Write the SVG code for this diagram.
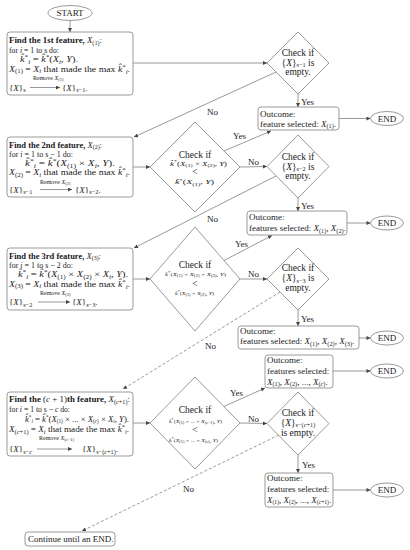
<svg xmlns="http://www.w3.org/2000/svg" width="410" height="550" viewBox="0 0 410 550">
<style>
text{font-family:"Liberation Serif","Times New Roman",serif;font-size:9px;fill:#1a1a1a}
.bd{font-weight:bold}
.it{font-style:italic}
.sb{font-size:6.3px}
.sm{font-size:6px}
.f7{font-size:7px}
.f5{font-size:5px}
.dt{font-size:9.5px}
.nd{fill:#fff;stroke:#808080;stroke-width:0.8}
.cn line{stroke:#808080;stroke-width:0.8;fill:none}
.cn .dash{stroke-dasharray:3 2}
.ra{stroke:#555;stroke-width:0.6}
</style>
<defs>
<marker id="ah" viewBox="0 0 6 6" refX="6" refY="3" markerUnits="userSpaceOnUse" markerWidth="4.5" markerHeight="4" orient="auto"><path d="M0,0 L6,3 L0,6 z" fill="#444"/></marker>
</defs>
<rect width="410" height="550" fill="#fff"/>

<g class="cn" id="connectors">
<line x1="70" y1="20.5" x2="70" y2="32" marker-end="url(#ah)"/>
<line x1="133" y1="63" x2="267" y2="63" marker-end="url(#ah)"/>
<line x1="298" y1="94" x2="298" y2="107" marker-end="url(#ah)"/>
<line x1="276" y1="72" x2="134" y2="137" marker-end="url(#ah)"/>
<line x1="339" y1="118.5" x2="370.5" y2="118.5" marker-end="url(#ah)"/>
<line x1="133" y1="167" x2="150" y2="167" marker-end="url(#ah)"/>
<line x1="224" y1="151" x2="271" y2="131" marker-end="url(#ah)"/>
<line x1="240" y1="167" x2="267" y2="166.5" marker-end="url(#ah)"/>
<line x1="298" y1="198" x2="298" y2="211" marker-end="url(#ah)"/>
<line x1="276" y1="176" x2="134" y2="248" marker-end="url(#ah)"/>
<line x1="347" y1="223" x2="370.5" y2="223" marker-end="url(#ah)"/>
<line x1="133" y1="279" x2="150" y2="279" marker-end="url(#ah)"/>
<line x1="224" y1="260.5" x2="272" y2="235.5" marker-end="url(#ah)"/>
<line x1="240" y1="279" x2="267" y2="279" marker-end="url(#ah)"/>
<line x1="298" y1="310" x2="298" y2="326" marker-end="url(#ah)"/>
<line class="dash" x1="280" y1="292" x2="123" y2="389" marker-end="url(#ah)"/>
<line x1="359" y1="338" x2="370.5" y2="338" marker-end="url(#ah)"/>
<line x1="133" y1="423" x2="150" y2="423" marker-end="url(#ah)"/>
<line x1="224" y1="406.5" x2="265" y2="388" marker-end="url(#ah)"/>
<line x1="240" y1="423" x2="267" y2="423.5" marker-end="url(#ah)"/>
<line x1="298" y1="455" x2="298" y2="473" marker-end="url(#ah)"/>
<line class="dash" x1="279" y1="435" x2="82" y2="531" marker-end="url(#ah)"/>
<line x1="333" y1="371" x2="370.5" y2="371" marker-end="url(#ah)"/>
<line x1="333" y1="490" x2="370.5" y2="490" marker-end="url(#ah)"/>
<text x="301" y="104.5">Yes</text>
<text x="207" y="115">No</text>
<text x="233" y="139">Yes</text>
<text x="248" y="164.5">No</text>
<text x="301" y="209">Yes</text>
<text x="207" y="222">No</text>
<text x="235" y="247">Yes</text>
<text x="248" y="277">No</text>
<text x="301" y="322">Yes</text>
<text x="205" y="349">No</text>
<text x="230" y="396">Yes</text>
<text x="248" y="421.5">No</text>
<text x="302" y="468">Yes</text>
<text x="183" y="492">No</text>
</g>

<g id="start">
<ellipse class="nd" cx="70" cy="13" rx="22" ry="7.5"/>
<text x="70" y="16" text-anchor="middle">START</text>
</g>

<g id="box1">
<rect class="nd" x="7" y="32" width="126" height="63" rx="3"/>
<text x="9" y="43" textLength="93" lengthAdjust="spacingAndGlyphs"><tspan class="bd">Find the 1st feature, </tspan><tspan class="it">X</tspan><tspan class="sb" dy="1.8">(1)</tspan><tspan dy="-1.8">:</tspan></text>
<text x="9" y="53" textLength="50" lengthAdjust="spacingAndGlyphs">for <tspan class="it">i</tspan> = 1 to s do:</text>
<text x="20" y="62" textLength="58" lengthAdjust="spacingAndGlyphs"><tspan class="it">k̂</tspan><tspan class="sb" dy="-3">*</tspan><tspan class="sb it" dy="5">i</tspan><tspan dy="-2"> = </tspan><tspan class="it">k̂</tspan><tspan class="sb" dy="-3">*</tspan><tspan dy="3">(</tspan><tspan class="it">X</tspan><tspan class="sb it" dy="1.8">i</tspan><tspan dy="-1.8">, </tspan><tspan class="it">Y</tspan>).</text>
<text x="9" y="71.5" textLength="121" lengthAdjust="spacingAndGlyphs"><tspan class="it">X</tspan><tspan class="sb" dy="1.8">(1)</tspan><tspan dy="-1.8"> = </tspan><tspan class="it">X</tspan><tspan class="sb it" dy="1.8">i</tspan><tspan dy="-1.8"> that made the max </tspan><tspan class="it">k̂</tspan><tspan class="sb" dy="-3">*</tspan><tspan class="sb it" dy="5">i</tspan><tspan dy="-2">.</tspan></text>
<text class="sm" x="33" y="80">Remove <tspan class="it">X</tspan><tspan font-size="4.5" dy="1.2">(1)</tspan></text>
<text x="9" y="90.5">{<tspan class="it">X</tspan>}<tspan class="sb" dy="1.8">s</tspan></text>
<line class="ra" x1="30" y1="87.5" x2="60" y2="87.5" marker-end="url(#ah)"/>
<text x="62" y="90.5">{<tspan class="it">X</tspan>}<tspan class="sb" dy="1.8">s−1</tspan><tspan dy="-1.8">.</tspan></text>
</g>

<g id="check1">
<polygon class="nd" points="298,32 329,63 298,94 267,63"/>
<text class="dt" x="298" y="55.5" text-anchor="middle">Check if</text>
<text class="dt" x="298" y="65.5" text-anchor="middle">{<tspan class="it">X</tspan>}<tspan class="sb" dy="1.8">s−1</tspan><tspan dy="-1.8"> is</tspan></text>
<text class="dt" x="298" y="75" text-anchor="middle">empty.</text>
</g>

<g id="outcome1">
<rect class="nd" x="258" y="107" width="81" height="23" rx="3"/>
<text x="260" y="117">Outcome:</text>
<text x="260" y="126.5">feature selected: <tspan class="it">X</tspan><tspan class="sb" dy="1.8">(1)</tspan><tspan dy="-1.8">.</tspan></text>
</g>
<g id="end1">
<ellipse class="nd" cx="387" cy="118.5" rx="16.5" ry="7"/>
<text x="387" y="121.5" text-anchor="middle">END</text>
</g>

<g id="box2">
<rect class="nd" x="7" y="137" width="126" height="60" rx="3"/>
<text x="9" y="147.5" textLength="93" lengthAdjust="spacingAndGlyphs"><tspan class="bd">Find the 2nd feature, </tspan><tspan class="it">X</tspan><tspan class="sb" dy="1.8">(2)</tspan><tspan dy="-1.8">:</tspan></text>
<text x="9" y="156.5" textLength="64" lengthAdjust="spacingAndGlyphs">for <tspan class="it">i</tspan> = 1 to s − 1 do:</text>
<text x="25" y="166" textLength="90" lengthAdjust="spacingAndGlyphs"><tspan class="it">k̂</tspan><tspan class="sb" dy="-3">*</tspan><tspan class="sb it" dy="5">i</tspan><tspan dy="-2"> = </tspan><tspan class="it">k̂</tspan><tspan class="sb" dy="-3">*</tspan><tspan dy="3">(</tspan><tspan class="it">X</tspan><tspan class="sb" dy="1.8">(1)</tspan><tspan dy="-1.8"> × </tspan><tspan class="it">X</tspan><tspan class="sb it" dy="1.8">i</tspan><tspan dy="-1.8">, </tspan><tspan class="it">Y</tspan>).</text>
<text x="9" y="175" textLength="121" lengthAdjust="spacingAndGlyphs"><tspan class="it">X</tspan><tspan class="sb" dy="1.8">(2)</tspan><tspan dy="-1.8"> = </tspan><tspan class="it">X</tspan><tspan class="sb it" dy="1.8">i</tspan><tspan dy="-1.8"> that made the max </tspan><tspan class="it">k̂</tspan><tspan class="sb" dy="-3">*</tspan><tspan class="sb it" dy="5">i</tspan><tspan dy="-2">.</tspan></text>
<text class="sm" x="40" y="183.5">Remove <tspan class="it">X</tspan><tspan font-size="4.5" dy="1.2">(2)</tspan></text>
<text x="9" y="192.5">{<tspan class="it">X</tspan>}<tspan class="sb" dy="1.8">s−1</tspan></text>
<line class="ra" x1="40" y1="189.5" x2="72" y2="189.5" marker-end="url(#ah)"/>
<text x="75" y="192.5">{<tspan class="it">X</tspan>}<tspan class="sb" dy="1.8">s−2</tspan><tspan dy="-1.8">.</tspan></text>
</g>

<g id="check2">
<polygon class="nd" points="195,122 240,167 195,212 150,167"/>
<text class="dt" x="195" y="158" text-anchor="middle">Check if</text>
<text class="f7" x="198.5" y="165.5" text-anchor="middle" textLength="57" lengthAdjust="spacingAndGlyphs"><tspan class="it">k̂</tspan><tspan font-size="5" dy="-2.5">*</tspan><tspan dy="2.5">(</tspan><tspan class="it">X</tspan><tspan font-size="5" dy="1.5">(1)</tspan><tspan dy="-1.5"> × </tspan><tspan class="it">X</tspan><tspan font-size="5" dy="1.5">(2)</tspan><tspan dy="-1.5">, </tspan><tspan class="it">Y</tspan>)</text>
<text class="dt" x="195" y="175" text-anchor="middle">&lt;</text>
<text class="f7" x="194.5" y="184" text-anchor="middle" textLength="39" lengthAdjust="spacingAndGlyphs"><tspan class="it">k̂</tspan><tspan font-size="5" dy="-2.5">*</tspan><tspan dy="2.5">(</tspan><tspan class="it">X</tspan><tspan font-size="5" dy="1.5">(1)</tspan><tspan dy="-1.5">, </tspan><tspan class="it">Y</tspan>)</text>
</g>

<g id="check3">
<polygon class="nd" points="298,135 329,166.5 298,198 267,166.5"/>
<text class="dt" x="298" y="159.5" text-anchor="middle">Check if</text>
<text class="dt" x="298" y="169.5" text-anchor="middle">{<tspan class="it">X</tspan>}<tspan class="sb" dy="1.8">s−2</tspan><tspan dy="-1.8"> is</tspan></text>
<text class="dt" x="298" y="179" text-anchor="middle">empty.</text>
</g>

<g id="outcome2">
<rect class="nd" x="247" y="211" width="100" height="24" rx="3"/>
<text x="249" y="220">Outcome:</text>
<text x="249" y="231">features selected: <tspan class="it">X</tspan><tspan class="sb" dy="1.8">(1)</tspan><tspan dy="-1.8">, </tspan><tspan class="it">X</tspan><tspan class="sb" dy="1.8">(2)</tspan><tspan dy="-1.8">.</tspan></text>
</g>
<g id="end2">
<ellipse class="nd" cx="387" cy="223" rx="16.5" ry="7"/>
<text x="387" y="226" text-anchor="middle">END</text>
</g>

<g id="box3">
<rect class="nd" x="7" y="248" width="126" height="62" rx="3"/>
<text x="9" y="258.5" textLength="92" lengthAdjust="spacingAndGlyphs"><tspan class="bd">Find the 3rd feature, </tspan><tspan class="it">X</tspan><tspan class="sb" dy="1.8">(3)</tspan><tspan dy="-1.8">:</tspan></text>
<text x="9" y="267.5" textLength="64" lengthAdjust="spacingAndGlyphs">for <tspan class="it">i</tspan> = 1 to s − 2 do:</text>
<text x="18" y="277" textLength="110" lengthAdjust="spacingAndGlyphs"><tspan class="it">k̂</tspan><tspan class="sb" dy="-3">*</tspan><tspan class="sb it" dy="5">i</tspan><tspan dy="-2"> = </tspan><tspan class="it">k̂</tspan><tspan class="sb" dy="-3">*</tspan><tspan dy="3">(</tspan><tspan class="it">X</tspan><tspan class="sb" dy="1.8">(1)</tspan><tspan dy="-1.8"> × </tspan><tspan class="it">X</tspan><tspan class="sb" dy="1.8">(2)</tspan><tspan dy="-1.8"> × </tspan><tspan class="it">X</tspan><tspan class="sb it" dy="1.8">i</tspan><tspan dy="-1.8">, </tspan><tspan class="it">Y</tspan>).</text>
<text x="9" y="286.5" textLength="121" lengthAdjust="spacingAndGlyphs"><tspan class="it">X</tspan><tspan class="sb" dy="1.8">(3)</tspan><tspan dy="-1.8"> = </tspan><tspan class="it">X</tspan><tspan class="sb it" dy="1.8">i</tspan><tspan dy="-1.8"> that made the max </tspan><tspan class="it">k̂</tspan><tspan class="sb" dy="-3">*</tspan><tspan class="sb it" dy="5">i</tspan><tspan dy="-2">.</tspan></text>
<text class="sm" x="40" y="294.5">Remove <tspan class="it">X</tspan><tspan font-size="4.5" dy="1.2">(3)</tspan></text>
<text x="9" y="305">{<tspan class="it">X</tspan>}<tspan class="sb" dy="1.8">s−2</tspan></text>
<line class="ra" x1="38" y1="302" x2="70" y2="302" marker-end="url(#ah)"/>
<text x="72" y="305">{<tspan class="it">X</tspan>}<tspan class="sb" dy="1.8">s−3</tspan><tspan dy="-1.8">.</tspan></text>
</g>

<g id="check4">
<polygon class="nd" points="195,227 240,279 195,331 150,279"/>
<text class="dt" x="195" y="267.5" text-anchor="middle">Check if</text>
<text class="f5" x="195.5" y="275.5" text-anchor="middle" textLength="61" lengthAdjust="spacingAndGlyphs"><tspan class="it">k̂</tspan><tspan font-size="3.6" dy="-1.8">*</tspan><tspan dy="1.8">(</tspan><tspan class="it">X</tspan><tspan font-size="3.6" dy="1.1">(1)</tspan><tspan dy="-1.1"> × </tspan><tspan class="it">X</tspan><tspan font-size="3.6" dy="1.1">(2)</tspan><tspan dy="-1.1"> × </tspan><tspan class="it">X</tspan><tspan font-size="3.6" dy="1.1">(3)</tspan><tspan dy="-1.1">, </tspan><tspan class="it">Y</tspan>)</text>
<text class="dt" x="195" y="286.5" text-anchor="middle">&lt;</text>
<text class="f5" x="194.5" y="295" text-anchor="middle" textLength="39" lengthAdjust="spacingAndGlyphs"><tspan class="it">k̂</tspan><tspan font-size="3.6" dy="-1.8">*</tspan><tspan dy="1.8">(</tspan><tspan class="it">X</tspan><tspan font-size="3.6" dy="1.1">(1)</tspan><tspan dy="-1.1"> × </tspan><tspan class="it">X</tspan><tspan font-size="3.6" dy="1.1">(2)</tspan><tspan dy="-1.1">, </tspan><tspan class="it">Y</tspan>)</text>
</g>

<g id="check5">
<polygon class="nd" points="298,248 329,279 298,310 267,279"/>
<text class="dt" x="298" y="271" text-anchor="middle">Check if</text>
<text class="dt" x="298" y="281" text-anchor="middle">{<tspan class="it">X</tspan>}<tspan class="sb" dy="1.8">s−3</tspan><tspan dy="-1.8"> is</tspan></text>
<text class="dt" x="298" y="291" text-anchor="middle">empty.</text>
</g>

<g id="outcome3">
<rect class="nd" x="238" y="326" width="121" height="23" rx="3"/>
<text x="240" y="334">Outcome:</text>
<text x="240" y="344">features selected: <tspan class="it">X</tspan><tspan class="sb" dy="1.8">(1)</tspan><tspan dy="-1.8">, </tspan><tspan class="it">X</tspan><tspan class="sb" dy="1.8">(2)</tspan><tspan dy="-1.8">, </tspan><tspan class="it">X</tspan><tspan class="sb" dy="1.8">(3)</tspan><tspan dy="-1.8">.</tspan></text>
</g>
<g id="end3">
<ellipse class="nd" cx="387" cy="338" rx="16.5" ry="7"/>
<text x="387" y="341" text-anchor="middle">END</text>
</g>

<g id="outcome4">
<rect class="nd" x="265" y="355" width="68" height="33" rx="3"/>
<text x="267" y="362.5">Outcome:</text>
<text x="267" y="373.5">features selected:</text>
<text x="267" y="384.5"><tspan class="it">X</tspan><tspan class="sb" dy="1.8">(1)</tspan><tspan dy="-1.8">, </tspan><tspan class="it">X</tspan><tspan class="sb" dy="1.8">(2)</tspan><tspan dy="-1.8">, ..., </tspan><tspan class="it">X</tspan><tspan class="sb" dy="1.8">(<tspan class="it">c</tspan>)</tspan><tspan dy="-1.8">.</tspan></text>
</g>
<g id="end4">
<ellipse class="nd" cx="387" cy="371" rx="16.5" ry="7"/>
<text x="387" y="374" text-anchor="middle">END</text>
</g>

<g id="box5">
<rect class="nd" x="7" y="392" width="126" height="64" rx="3"/>
<text x="9" y="402" textLength="121" lengthAdjust="spacingAndGlyphs"><tspan class="bd">Find the </tspan>(<tspan class="it">c</tspan> + 1)<tspan class="bd">th feature, </tspan><tspan class="it">X</tspan><tspan class="sb" dy="1.8">(<tspan class="it">c</tspan>+1)</tspan><tspan dy="-1.8">:</tspan></text>
<text x="9" y="412" textLength="61" lengthAdjust="spacingAndGlyphs">for <tspan class="it">i</tspan> = 1 to s − <tspan class="it">c</tspan> do:</text>
<text x="25" y="421.5" font-size="7.5" textLength="104" lengthAdjust="spacingAndGlyphs"><tspan class="it">k̂</tspan><tspan font-size="5.3" dy="-2.6">*</tspan><tspan font-size="5.3" class="it" dy="4.3">i</tspan><tspan dy="-1.7"> = </tspan><tspan class="it">k̂</tspan><tspan font-size="5.3" dy="-2.6">*</tspan><tspan dy="2.6">(</tspan><tspan class="it">X</tspan><tspan font-size="5.3" dy="1.5">(1)</tspan><tspan dy="-1.5"> × ... × </tspan><tspan class="it">X</tspan><tspan font-size="5.3" dy="1.5">(<tspan class="it">c</tspan>)</tspan><tspan dy="-1.5"> × </tspan><tspan class="it">X</tspan><tspan font-size="5.3" class="it" dy="1.5">i</tspan><tspan dy="-1.5">, </tspan><tspan class="it">Y</tspan>).</text>
<text x="9" y="432" textLength="120" lengthAdjust="spacingAndGlyphs"><tspan class="it">X</tspan><tspan class="sb" dy="1.8">(<tspan class="it">c</tspan>+1)</tspan><tspan dy="-1.8"> = </tspan><tspan class="it">X</tspan><tspan class="sb it" dy="1.8">i</tspan><tspan dy="-1.8"> that made the max </tspan><tspan class="it">k̂</tspan><tspan class="sb" dy="-3">*</tspan><tspan class="sb it" dy="5">i</tspan><tspan dy="-2">.</tspan></text>
<text class="sm" x="39" y="440">Remove <tspan class="it">X</tspan><tspan font-size="4.5" dy="1.2">(<tspan class="it">c</tspan>+1)</tspan></text>
<text x="9" y="452">{<tspan class="it">X</tspan>}<tspan class="sb" dy="1.8">s−<tspan class="it">c</tspan></tspan></text>
<line class="ra" x1="37" y1="449" x2="72" y2="449" marker-end="url(#ah)"/>
<text x="82" y="452">{<tspan class="it">X</tspan>}<tspan class="sb" dy="1.8">s−(<tspan class="it">c</tspan>+1)</tspan><tspan dy="-1.8">.</tspan></text>
</g>

<g id="check6">
<polygon class="nd" points="195,377 240,423 195,469 150,423"/>
<text class="dt" x="195" y="412.5" text-anchor="middle">Check if</text>
<text class="f5" x="195.5" y="422.5" text-anchor="middle" textLength="53" lengthAdjust="spacingAndGlyphs"><tspan class="it">k̂</tspan><tspan font-size="3.6" dy="-1.8">*</tspan><tspan dy="1.8">(</tspan><tspan class="it">X</tspan><tspan font-size="3.6" dy="1.1">(1)</tspan><tspan dy="-1.1"> × ... × </tspan><tspan class="it">X</tspan><tspan font-size="3.6" dy="1.1">(<tspan class="it">c</tspan>+1)</tspan><tspan dy="-1.1">, </tspan><tspan class="it">Y</tspan>)</text>
<text class="dt" x="195" y="432.5" text-anchor="middle">&lt;</text>
<text class="f5" x="193.5" y="441.5" text-anchor="middle" textLength="49" lengthAdjust="spacingAndGlyphs"><tspan class="it">k̂</tspan><tspan font-size="3.6" dy="-1.8">*</tspan><tspan dy="1.8">(</tspan><tspan class="it">X</tspan><tspan font-size="3.6" dy="1.1">(1)</tspan><tspan dy="-1.1"> × ... × </tspan><tspan class="it">X</tspan><tspan font-size="3.6" dy="1.1">(<tspan class="it">c</tspan>)</tspan><tspan dy="-1.1">, </tspan><tspan class="it">Y</tspan>)</text>
</g>

<g id="check7">
<polygon class="nd" points="298,392 329,423.5 298,455 267,423.5"/>
<text class="dt" x="298" y="415.5" text-anchor="middle">Check if</text>
<text class="dt" x="298" y="425.5" text-anchor="middle">{<tspan class="it">X</tspan>}<tspan class="sb" dy="1.8">s−(<tspan class="it">c</tspan>+1)</tspan></text>
<text class="dt" x="298" y="435.5" text-anchor="middle">is empty.</text>
</g>

<g id="outcome5">
<rect class="nd" x="265" y="473" width="68" height="34" rx="3"/>
<text x="267" y="480.5">Outcome:</text>
<text x="267" y="491.5">features selected:</text>
<text x="267" y="502.5" font-size="8"><tspan class="it">X</tspan><tspan font-size="5.6" dy="1.6">(1)</tspan><tspan dy="-1.6">, </tspan><tspan class="it">X</tspan><tspan font-size="5.6" dy="1.6">(2)</tspan><tspan dy="-1.6">, ..., </tspan><tspan class="it">X</tspan><tspan font-size="5.6" dy="1.6">(<tspan class="it">c</tspan>+1)</tspan><tspan dy="-1.6">.</tspan></text>
</g>
<g id="end5">
<ellipse class="nd" cx="387" cy="490" rx="16.5" ry="7"/>
<text x="387" y="493" text-anchor="middle">END</text>
</g>

<g id="continue">
<rect class="nd" x="25" y="532" width="90" height="14" rx="3"/>
<text x="28" y="542">Continue until an END.</text>
</g>
</svg>
